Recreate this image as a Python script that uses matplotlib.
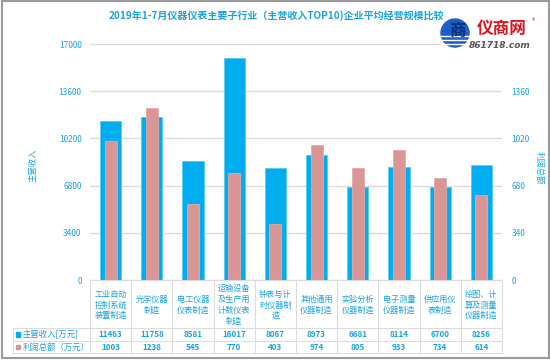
import numpy as np
import matplotlib.pyplot as plt
from matplotlib.patches import Rectangle, Circle

plt.rcParams['font.family'] = ['Noto Sans CJK SC', 'DejaVu Sans']

# data
categories = ['工业自动\n控制系统\n装置制造', '光学仪器\n制造', '电工仪器\n仪表制造',
              '运输设备\n及生产用\n计数仪表\n制造', '钟表与计\n时仪器制\n造', '其他通用\n仪器制造',
              '实验分析\n仪器制造', '电子测量\n仪器制造', '供应用仪\n表制造', '绘图、计\n算及测量\n仪器制造']
revenue = [11463, 11758, 8581, 16017, 8067, 8973, 6681, 8114, 6700, 8256]
profit = [1003, 1238, 545, 770, 403, 974, 805, 933, 734, 614]
left_ticks = [0, 3400, 6800, 10200, 13600, 17000]
right_ticks = [0, 340, 680, 1020, 1360, 1700]
right_labels = ['0', '340', '680', '1020', '1360', '']  # top one sits under the logo
row_labels = ['主营收入[万元]', '利润总额（万元）']

BLUE = '#00AEEF'
PINK = '#D99694'
TXT = '#1AA3DC'
GRID = '#DCDCDC'

W, H = 550, 360
fig = plt.figure(figsize=(5.5, 3.6), dpi=100)

# plot area in pixels
x0, x1, ytop, ybot = 90, 502, 44, 280
ax = fig.add_axes([x0 / W, 1 - ybot / H, (x1 - x0) / W, (ybot - ytop) / H])
ax2 = ax.twinx()

x = np.arange(len(categories))
ax.bar(x, revenue, width=0.51, color=BLUE, edgecolor='#5CC8F0', linewidth=0.6, zorder=2)
ax2.bar(x, profit, width=0.29, color=PINK, edgecolor='#E3ABA9', linewidth=0.6, zorder=3)

ax.set_xlim(-0.5, len(categories) - 0.5)
ax.set_ylim(0, 17000)
ax2.set_ylim(0, 1700)
ax.set_yticks(left_ticks)
ax2.set_yticks(right_ticks)
ax2.set_yticklabels(right_labels)
ax.set_xticks([])
ax.yaxis.grid(True, color=GRID, linewidth=1, zorder=0)
ax.set_axisbelow(True)
for a in (ax, ax2):
    for s in a.spines.values():
        s.set_visible(False)
    a.tick_params(axis='y', length=0, labelsize=6, labelcolor=TXT)
ax.tick_params(axis='y', pad=6)
ax2.tick_params(axis='y', pad=7)
ax.set_zorder(1)
ax2.set_zorder(2)
ax.patch.set_visible(False)
ax2.patch.set_visible(False)

# overlay in pixel coordinates
ov = fig.add_axes([0, 0, 1, 1], zorder=5)
ov.set_xlim(0, W)
ov.set_ylim(H, 0)
ov.axis('off')

ov.text(277, 16, '2019年1-7月仪器仪表主要子行业（主营收入TOP10)企业平均经营规模比较',
        ha='center', va='center', fontsize=7.2, color=TXT, fontweight='bold')
ov.text(33, 165, '主营收入', rotation=90, ha='center', va='center', fontsize=6, color=TXT)
ov.text(539, 168, '利润总额', rotation=-90, ha='center', va='center', fontsize=6, color=TXT)

# table
n = len(categories)
cw = (x1 - x0) / n
r0, r1, r2, r3 = 280, 328, 341, 353
ov.plot([x0, x1], [r0, r0], color=GRID, lw=0.8)
for yy in (r1, r2, r3):
    ov.plot([13, x1], [yy, yy], color=GRID, lw=0.8)
ov.plot([13, 13], [r1, r3], color=GRID, lw=0.8)
for k in range(n + 1):
    ov.plot([x0 + k * cw] * 2, [r0, r3], color=GRID, lw=0.8)
for i in range(n):
    cx = x0 + (i + 0.5) * cw
    ov.text(cx, (r0 + r1) / 2 + 1, categories[i], ha='center', va='center',
            fontsize=5.9, color=TXT, linespacing=1.25)
    ov.text(cx, (r1 + r2) / 2, str(revenue[i]), ha='center', va='center',
            fontsize=5.8, color=TXT, fontweight='bold')
    ov.text(cx, (r2 + r3) / 2, str(profit[i]), ha='center', va='center',
            fontsize=5.8, color=TXT, fontweight='bold')
for (ya, yb), lab, col in zip([(r1, r2), (r2, r3)], row_labels, [BLUE, PINK]):
    ym = (ya + yb) / 2
    ov.add_patch(Rectangle((16, ym - 2.2), 4.4, 4.4, color=col))
    ov.text(23, ym, lab, ha='left', va='center', fontsize=6, color=TXT)

# logo
ov.add_patch(Circle((455, 33), 14, color='#1D5FC8'))
for yy in (36, 40, 44):
    ov.plot([441, 469], [yy, yy], color='white', lw=1.0)
ov.text(457, 31, '商', ha='center', va='center', fontsize=12, color='#0B2F7A', fontweight='bold')
ov.text(502, 29, '仪商网', ha='center', va='center', fontsize=12, color='#E0141E', fontweight='bold')
ov.text(533, 21, '®', ha='center', va='center', fontsize=5, color='#E0141E')
ov.text(500, 45, '861718.com', ha='center', va='center', fontsize=6.5, color='#555555',
        style='italic', fontweight='bold', family='DejaVu Sans')

# outer frame
ov.add_patch(Rectangle((1.5, 1), W - 3, 357, fill=False, edgecolor='#9A9A9A', lw=1.5))

fig.savefig('out.png', dpi=100)
